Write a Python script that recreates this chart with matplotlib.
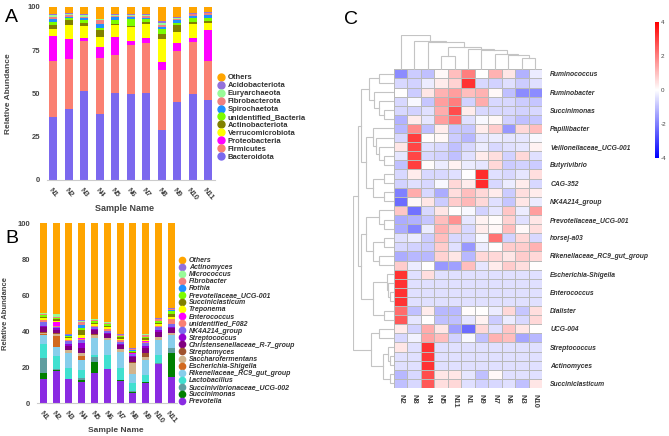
import numpy as np
import matplotlib
matplotlib.use('Agg')
import matplotlib.pyplot as plt
from matplotlib.colors import LinearSegmentedColormap
from matplotlib.lines import Line2D
from matplotlib.cm import ScalarMappable
from matplotlib.colors import Normalize

plt.rcParams['font.family'] = ['Liberation Sans', 'DejaVu Sans']
plt.rcParams['axes.unicode_minus'] = False

W, H = 669, 436

samples = ['N1', 'N2', 'N3', 'N4', 'N5', 'N6', 'N7', 'N8', 'N9', 'N10', 'N11']

# ---- panel A: phylum level (bottom -> top) ----
phyla = ['Bacteroidota', 'Firmicutes', 'Proteobacteria', 'Verrucomicrobiota',
         'Actinobacteriota', 'unidentified_Bacteria', 'Spirochaetota',
         'Fibrobacterota', 'Euryarchaeota', 'Acidobacteriota', 'Others']
phylum_colors = ['#7B68EE', '#FA8072', '#FF00FF', '#FFFF00', '#808000', '#7CFC00',
                 '#1E90FF', '#F08080', '#98FB98', '#9370DB', '#FFA500']
bacteroidota = [36.5, 40.8, 51.3, 38.1, 50.0, 49.6, 50.4, 28.8, 44.8, 49.4, 46.2]
firmicutes = [32.2, 28.8, 28.9, 32.5, 22.1, 28.3, 28.8, 34.7, 29.8, 30.4, 22.5]
proteobacteria = [14.3, 11.7, 1.9, 6.3, 10.6, 2.3, 2.5, 4.8, 4.2, 2.3, 17.8]
verrucomicrobiota = [4.0, 8.1, 6.9, 5.4, 6.7, 8.3, 8.3, 13.0, 6.4, 7.9, 4.3]
actinobacteriota = [2.4, 2.9, 1.8, 4.2, 0.6, 0.3, 1.3, 2.7, 4.2, 1.3, 0.9]
unidentified_bacteria = [1.9, 1.0, 1.5, 1.0, 2.3, 3.9, 1.4, 2.9, 1.4, 2.0, 1.6]
spirochaetota = [1.6, 0.9, 1.0, 2.5, 1.5, 1.5, 1.0, 1.6, 1.5, 1.5, 1.9]
fibrobacterota = [1.3, 1.2, 0.9, 2.3, 1.0, 0.6, 1.1, 0.7, 0.6, 0.8, 1.0]
euryarchaeota = [1.0, 0.4, 1.0, 0.4, 0.4, 0.4, 0.6, 1.2, 0.8, 0.3, 0.4]
acidobacteriota = [0.4, 0.4, 0.4, 0.3, 0.4, 0.4, 0.4, 1.3, 0.5, 0.3, 0.3]
others_a = [4.4, 3.8, 4.4, 7.0, 4.4, 4.4, 4.2, 8.3, 5.8, 3.8, 3.1]
phylum_values = [bacteroidota, firmicutes, proteobacteria, verrucomicrobiota,
                 actinobacteriota, unidentified_bacteria, spirochaetota,
                 fibrobacterota, euryarchaeota, acidobacteriota, others_a]

# ---- panel B: genus level (bottom -> top) ----
genera = ['Prevotella', 'Succinimonas', 'Succinivibrionaceae_UCG-002', 'Lactobacillus',
          'Rikenellaceae_RC9_gut_group', 'Escherichia-Shigella', 'Saccharofermentans',
          'Streptomyces', 'Christensenellaceae_R-7_group', 'Streptococcus',
          'NK4A214_group', 'unidentified_F082', 'Enterococcus', 'Treponema',
          'Succiniclasticum', 'Prevotellaceae_UCG-001', 'Rothia', 'Fibrobacter',
          'Micrococcus', 'Actinomyces', 'Others']
genus_colors = ['#8A2BE2', '#008000', '#5F9EA0', '#40E0D0', '#87CEEB', '#D2691E',
                '#D2B48C', '#A0522D', '#800080', '#9400D3', '#7B68EE', '#FA8072',
                '#FF00FF', '#FFFF00', '#808000', '#7CFC00', '#1E90FF', '#F08080',
                '#98FB98', '#9370DB', '#FFA500']
prevotella = [13.3, 18.1, 13.3, 12.0, 16.7, 18.9, 12.6, 5.9, 11.5, 21.9, 14.4]
succinimonas = [3.7, 0.4, 0.2, 1.0, 6.4, 0.2, 0.4, 0.3, 0.2, 0.2, 13.4]
succinivibrionaceae = [8.0, 0.3, 0.2, 0.9, 2.4, 0.2, 0.2, 0.5, 0.3, 0.5, 2.8]
lactobacillus = [7.8, 7.5, 5.7, 4.6, 1.3, 7.6, 6.2, 4.4, 3.7, 4.3, 0.3]
rikenellaceae = [5.2, 4.8, 8.7, 5.6, 9.3, 8.3, 9.1, 5.2, 8.4, 8.3, 7.1]
escherichia = [0.5, 6.3, 0.1, 2.2, 0.1, 0.1, 0.1, 0.1, 0.1, 0.1, 0.1]
saccharofermentans = [0.8, 1.1, 1.4, 1.5, 1.9, 0.8, 1.4, 5.8, 1.4, 1.4, 0.8]
streptomyces = [0.5, 0.4, 0.2, 0.4, 0.2, 0.2, 0.2, 0.9, 2.2, 0.3, 0.2]
christensenellaceae = [2.8, 1.8, 2.1, 2.4, 2.2, 2.0, 2.2, 2.5, 3.1, 2.8, 2.6]
streptococcus = [0.4, 1.0, 1.1, 2.7, 0.6, 0.6, 0.6, 0.7, 1.0, 0.9, 0.9]
nk4a214 = [2.4, 0.5, 1.4, 1.9, 1.2, 1.5, 1.2, 1.1, 1.4, 1.5, 1.4]
unidentified_f082 = [0.9, 0.8, 0.8, 0.8, 0.6, 0.7, 0.7, 0.2, 1.0, 0.8, 2.7]
enterococcus = [0.2, 2.4, 0.1, 0.2, 0.1, 0.1, 0.1, 0.1, 0.1, 0.1, 0.1]
treponema = [0.7, 0.5, 0.8, 1.8, 1.1, 1.0, 0.9, 0.4, 0.8, 0.9, 1.3]
succiniclasticum = [0.8, 0.8, 0.9, 2.7, 0.6, 0.8, 0.7, 0.6, 0.9, 0.8, 1.5]
prevotellaceae_ucg001 = [1.0, 0.5, 0.6, 1.0, 1.1, 1.0, 0.8, 0.6, 0.9, 1.1, 1.9]
rothia = [0.2, 0.2, 0.1, 1.8, 0.1, 0.1, 0.1, 0.1, 0.1, 0.1, 0.1]
fibrobacter = [0.4, 0.7, 0.3, 1.9, 0.5, 0.7, 0.4, 0.6, 0.9, 0.7, 0.6]
micrococcus = [0.3, 1.3, 0.2, 0.4, 0.2, 0.2, 0.2, 0.4, 0.3, 0.3, 0.3]
actinomyces = [0.3, 0.3, 0.2, 0.5, 0.2, 0.2, 0.2, 0.3, 0.3, 0.3, 0.3]
others_b = [49.8, 50.3, 61.6, 53.7, 53.3, 54.8, 61.7, 69.3, 61.4, 52.7, 47.2]
genus_values = [prevotella, succinimonas, succinivibrionaceae, lactobacillus,
                rikenellaceae, escherichia, saccharofermentans, streptomyces,
                christensenellaceae, streptococcus, nk4a214, unidentified_f082,
                enterococcus, treponema, succiniclasticum, prevotellaceae_ucg001,
                rothia, fibrobacter, micrococcus, actinomyces, others_b]

# ---- panel C: clustered heatmap (rows / columns in displayed order) ----
heat_cols = ['N2', 'N8', 'N4', 'N5', 'N11', 'N1', 'N9', 'N7', 'N6', 'N3', 'N10']
heat_labels = ['Ruminococcus', 'Ruminobacter', 'Succinimonas', 'Papillibacter',
               'Veillonellaceae_UCG-001', 'Butyrivibrio', 'CAG-352', 'NK4A214_group',
               'Prevotellaceae_UCG-001', 'horsej-a03', 'Rikenellaceae_RC9_gut_group',
               'Escherichia-Shigella', 'Enterococcus', 'Dialister', 'UCG-004',
               'Streptococcus', 'Actinomyces', 'Succiniclasticum']
heat_z = [
    [-1.8, -0.8, -1.0, 0.1, 1.0, 2.0, 0.0, 1.2, 0.4, -1.2, -0.3],
    [-0.6, -0.7, -0.3, 0.3, 0.7, 3.2, -0.6, -0.7, -0.5, -0.8, -0.5],
    [0.0, -0.8, 0.4, 1.2, 1.5, 1.0, 1.2, 0.1, -1.0, -1.8, -1.8],
    [-0.6, -0.1, -0.9, 1.5, 2.0, -0.7, 1.3, -0.6, -0.6, -0.8, -0.9],
    [-0.6, -0.7, -0.5, 1.3, 2.8, 0.3, -0.6, -0.6, -0.6, -0.7, -0.6],
    [-1.2, 0.3, -0.4, 1.5, 2.2, -0.5, -0.1, 0.1, -0.7, -1.0, -0.9],
    [-1.1, 1.8, -1.0, 0.3, -0.9, -0.9, 0.3, 0.8, -1.6, 0.6, 1.0],
    [-0.6, 3.0, 0.05, 0.1, -0.8, -1.1, -0.4, -0.3, -0.4, -0.4, -0.1],
    [0.4, 2.9, -0.5, -0.6, -1.0, -0.6, -0.3, -0.6, -0.5, -0.4, 0.2],
    [-0.4, 2.9, -0.6, -0.7, -1.0, -0.5, 0.3, 0.5, -0.7, 0.6, -0.5],
    [-1.0, 3.0, 0.05, -0.3, 0.2, -0.3, -0.4, 0.6, -0.8, -0.7, -0.8],
    [-0.6, 0.3, -0.6, -0.6, -0.5, 0.0, 3.3, -0.5, -0.6, -0.4, 0.5],
    [-0.7, -0.5, -0.6, -0.1, 0.6, 0.3, 3.3, -0.6, -0.3, 0.3, -0.6],
    [-2.0, 1.3, -0.6, -1.3, 0.5, 1.0, 0.6, 0.3, -0.8, 0.5, 0.3],
    [-2.3, 0.1, 0.4, -0.8, 0.8, 1.1, 0.6, -0.5, -0.9, 0.4, -0.3],
    [0.9, -2.2, -0.6, 0.4, 0.0, -0.1, -0.7, -0.4, 0.9, -0.3, 1.5],
    [-1.3, -1.2, -0.9, 1.0, 1.7, -0.4, 0.2, 0.05, 0.7, -0.5, 0.4],
    [-1.3, -1.9, -0.3, 1.2, 0.8, -0.6, 0.3, 0.1, 1.0, 0.1, 0.5],
    [-0.5, -0.3, -0.8, 1.0, -0.6, -0.6, -0.1, 2.2, -0.7, 0.6, -0.6],
    [-0.6, -0.7, -0.8, 0.8, -0.5, -1.6, -0.3, 0.05, 0.8, 0.8, 1.2],
    [-1.3, -1.1, -1.1, 0.7, 0.4, -1.1, 0.6, 0.6, 0.4, 0.8, 0.6],
    [0.8, -0.3, 0.0, -1.6, -1.5, 1.0, -0.4, 0.3, 0.8, 0.5, 0.0],
    [3.2, -0.5, 0.5, -0.5, -0.5, -0.5, -0.5, -0.5, -0.5, -0.5, -0.5],
    [3.2, -0.5, -0.5, -0.5, -0.5, -0.5, -0.5, -0.5, -0.5, -0.5, -0.5],
    [3.2, -0.5, -0.5, -0.5, -0.5, -0.5, -0.5, -0.5, -0.5, -0.5, -0.5],
    [3.2, -0.5, -0.5, -0.5, -0.5, -0.5, -0.5, -0.5, -0.5, -0.5, -0.5],
    [2.3, -1.0, 0.3, -1.1, -1.1, 0.05, 0.0, -0.3, 0.6, -0.9, 0.5],
    [2.6, -0.4, 0.0, -1.0, -1.0, -0.4, 0.2, -0.8, -0.3, -0.6, 0.6],
    [0.3, -0.7, 1.3, 0.4, -1.5, -2.3, 0.6, -0.5, 0.9, 0.4, 0.0],
    [-0.6, -0.2, 1.4, 1.0, -0.7, -0.1, -1.0, 1.2, 1.0, -1.4, -1.1],
    [0.4, -0.5, 3.2, -0.5, -0.5, -0.5, -0.5, -0.5, -0.5, -0.5, -0.5],
    [-0.5, -0.5, 3.1, -0.5, -0.5, -0.5, -0.5, -0.5, -0.5, -0.5, -0.5],
    [-0.5, -0.5, 3.2, -0.5, -0.5, -0.5, -0.5, -0.5, -0.5, -0.5, -0.5],
    [-1.1, -0.6, 2.8, 0.4, 0.4, -0.4, -1.0, 0.1, -0.5, -0.5, -0.5],
    [-1.0, -0.6, 2.6, 0.5, 0.6, -0.5, -0.7, -0.6, -0.5, -1.0, 0.4],
]

# dendrograms as (left, right, height), leaves = display position
col_tree = (0, (1, (2, ((3, 4, 42), (5, (6, (7, (8, (9, 10, 35), 45), 48), 58), 62), 70), 85), 87), 105)
row_a = ((0, 1, 44), (2, (3, (4, 5, 29), 44), 59), 74)
row_b = (6, (7, (8, (9, 10, 29), 44), 52), 62)
row_c = ((11, 12, 29), (13, 14, 29), 62)
row_d = ((15, (16, 17, 29), 44), ((18, 19, 29), (20, 21, 44), 62), 82)
row_e = ((22, (23, (24, 25, 12), 17), 22), (26, 27, 30), 62)
row_f = ((28, 29, 44), ((30, (31, 32, 12), 17), (33, 34, 12), 32), 67)
row_tree = (((row_a, (row_b, row_c, 82), 97), (row_d, row_e, 97), 107), row_f, 122)


def px_axes(fig, left, top, right, bottom):
    return fig.add_axes([left / W, 1 - bottom / H, (right - left) / W, (bottom - top) / H])


def draw_tree(ax, node, top_side, color='#c4c4c4'):
    if isinstance(node, int):
        return node + 0.5, 0.0
    left, right, h = node
    pl, hl = draw_tree(ax, left, top_side, color)
    pr, hr = draw_tree(ax, right, top_side, color)
    pos = [pl, pl, pr, pr]
    hts = [hl, h, h, hr]
    if top_side:
        ax.plot(pos, hts, color=color, lw=0.8, solid_joinstyle='miter')
    else:
        ax.plot(hts, pos, color=color, lw=0.8, solid_joinstyle='miter')
    return (pl + pr) / 2, h


def stacked(ax, values, colors, width):
    x = np.arange(len(samples))
    bottom = np.zeros(len(samples))
    for vals, col in zip(values, colors):
        ax.bar(x, vals, width, bottom=bottom, color=col, edgecolor='none')
        bottom += np.array(vals)
    ax.set_xticks(x)
    ax.set_xticklabels(samples, rotation=-50, ha='center', fontsize=5.5,
                       fontweight='bold', color='#444444')
    for s in ['top', 'right', 'left']:
        ax.spines[s].set_visible(False)
    ax.spines['bottom'].set_color('#cccccc')
    ax.tick_params(axis='both', length=0, pad=5, labelsize=5.5, colors='#444444')


fig = plt.figure(figsize=(W / 100, H / 100), dpi=100)

# ---- A ----
axA = px_axes(fig, 47, 6.7, 215, 180)
stacked(axA, phylum_values, phylum_colors, 0.52)
axA.set_ylim(0, 100)
axA.set_xlim(-0.4, 10.45)
axA.set_yticks([0, 25, 50, 75, 100])
axA.set_yticklabels(['0', '25', '50', '75', '100'], fontweight='bold')
axA.set_ylabel('Relative Abundance', fontsize=6, fontweight='bold', color='#444444')
axA.yaxis.set_label_coords(-0.21, 0.5)
axA.set_xlabel('Sample Name', fontsize=6.5, fontweight='bold', color='#444444')
axA.xaxis.set_label_coords(0.46, -0.14)
handles_a = [Line2D([], [], marker='o', ls='none', markersize=5, color=c)
             for c in phylum_colors[::-1]]
axA.legend(handles_a, phyla[::-1], loc='upper left', bbox_to_anchor=(217 / W, 1 - 74 / H),
           bbox_transform=fig.transFigure, frameon=False, borderaxespad=0, borderpad=0,
           handlelength=1.0, handletextpad=0.4, labelspacing=0.08,
           prop={'size': 5.5, 'weight': 'bold'}, labelcolor='#333333')
fig.text(5 / W, 1 - 22 / H, 'A', fontsize=14)

# ---- B ----
axB = px_axes(fig, 37, 223.3, 177, 403.3)
stacked(axB, genus_values, genus_colors, 0.55)
axB.set_ylim(0, 100)
axB.set_xlim(-0.5, 10.45)
axB.set_yticks([0, 20, 40, 60, 80, 100])
axB.set_yticklabels(['0', '20', '40', '60', '80', '100'], fontweight='bold')
axB.set_ylabel('Relative Abundance', fontsize=5.5, fontweight='bold', color='#444444')
axB.yaxis.set_label_coords(-0.2, 0.5)
axB.set_xlabel('Sample Name', fontsize=6, fontweight='bold', color='#444444')
axB.xaxis.set_label_coords(0.56, -0.13)
handles_b = [Line2D([], [], marker='o', ls='none', markersize=4.5, color=c)
             for c in genus_colors[::-1]]
axB.legend(handles_b, genera[::-1], loc='upper left', bbox_to_anchor=(179 / W, 1 - 257 / H),
           bbox_transform=fig.transFigure, frameon=False, borderaxespad=0, borderpad=0,
           handlelength=1.0, handletextpad=0.4, labelspacing=0.01,
           prop={'size': 5, 'weight': 'bold', 'style': 'italic'}, labelcolor='#333333')
fig.text(5 / W, 1 - 243 / H, 'B', fontsize=14)

# ---- C ----
cmap = LinearSegmentedColormap.from_list('bwr_c', ['#0000FF', '#FFFFFF', '#FF0000'])
axH = px_axes(fig, 394, 69.3, 542, 388)
axH.pcolormesh(np.array(heat_z), cmap=cmap, vmin=-4, vmax=4,
               edgecolors='#b9b9b9', linewidth=0.5)
axH.set_xlim(0, len(heat_cols))
axH.set_ylim(len(heat_z), 0)
axH.set_xticks(np.arange(len(heat_cols)) + 0.5)
axH.set_xticklabels(heat_cols, rotation=270, fontsize=5.5, fontweight='bold', color='#444444')
axH.set_yticks(np.arange(0, len(heat_z), 2) + 0.5)
axH.set_yticklabels(heat_labels, fontsize=4.9, fontweight='bold', style='italic',
                    color='#333333')
axH.yaxis.tick_right()
axH.tick_params(axis='both', length=0)
axH.tick_params(axis='y', pad=6)
axH.tick_params(axis='x', pad=4)
for s in axH.spines.values():
    s.set_visible(False)

axCol = px_axes(fig, 394, 35, 542, 69.6)
draw_tree(axCol, col_tree, True)
axCol.set_xlim(0, len(heat_cols))
axCol.set_ylim(0, col_tree[2])
axCol.axis('off')

axRow = px_axes(fig, 352.6, 69.3, 394.2, 388)
draw_tree(axRow, row_tree, False)
axRow.set_ylim(len(heat_z), 0)
axRow.set_xlim(row_tree[2], 0)
axRow.axis('off')

cax = px_axes(fig, 655, 22, 659, 158)
cb = fig.colorbar(ScalarMappable(norm=Normalize(-4, 4), cmap=cmap), cax=cax)
cb.outline.set_visible(False)
cb.set_ticks([-4, -2, 0, 2, 4])
cb.ax.tick_params(length=0, labelsize=4.5, pad=1.5, colors='#444444')

fig.text(344 / W, 1 - 24 / H, 'C', fontsize=14)

fig.savefig('out.png', dpi=100)
